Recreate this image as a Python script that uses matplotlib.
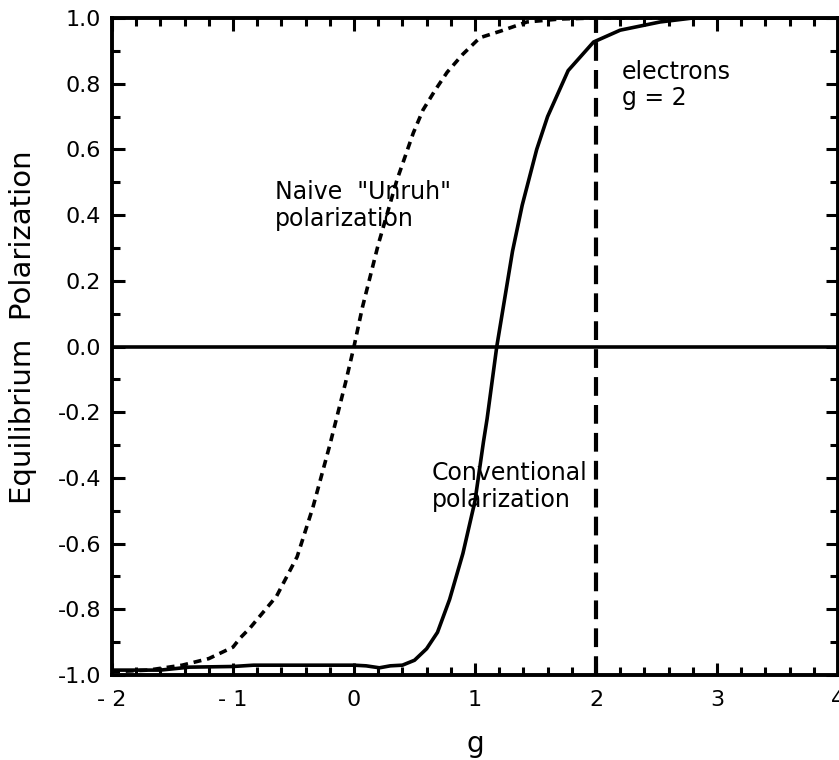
import matplotlib
matplotlib.use("Agg")
import matplotlib.pyplot as plt
from matplotlib.ticker import MultipleLocator

plt.rcParams['font.family'] = ['DejaVu Sans']

# Naive "Unruh" polarization (dashed)
g_naive = [-2.0, -1.7, -1.42, -1.2, -1.0, -0.94, -0.86, -0.64, -0.47, -0.34, -0.2,
           -0.07, 0.0, 0.07, 0.2, 0.355, 0.49, 0.57, 0.67, 0.77, 0.9, 1.04, 1.21,
           1.43, 1.7, 2.0, 4.0]
p_naive = [-0.99, -0.985, -0.97, -0.95, -0.915, -0.887, -0.857, -0.76, -0.64,
           -0.49, -0.30, -0.11, 0.0, 0.12, 0.31, 0.507, 0.65, 0.72, 0.78, 0.835,
           0.89, 0.94, 0.96, 0.988, 0.997, 1.0, 1.0]

# Conventional polarization (solid)
g_conv = [-2.0, -1.6, -1.36, -1.0, -0.83, -0.5, 0.0, 0.1, 0.21, 0.3, 0.4, 0.5,
          0.6, 0.69, 0.79, 0.9, 1.0, 1.07, 1.1, 1.18, 1.31, 1.39, 1.51, 1.6,
          1.77, 1.98, 2.2, 2.53, 2.8, 4.0]
p_conv = [-0.985, -0.985, -0.976, -0.974, -0.97, -0.97, -0.97, -0.972, -0.978,
          -0.972, -0.97, -0.955, -0.92, -0.87, -0.77, -0.63, -0.47, -0.29, -0.22,
          0.0, 0.29, 0.43, 0.60, 0.70, 0.84, 0.927, 0.963, 0.988, 1.0, 1.0]

x_ticks = [-2, -1, 0, 1, 2, 3, 4]
x_tick_labels = ["- 2", "- 1", "0", "1", "2", "3", "4"]
y_ticks = [-1.0, -0.8, -0.6, -0.4, -0.2, 0.0, 0.2, 0.4, 0.6, 0.8, 1.0]
y_tick_labels = ["-1.0", "-0.8", "-0.6", "-0.4", "-0.2", "0.0", "0.2", "0.4", "0.6", "0.8", "1.0"]
electron_g = 2

fig = plt.figure(figsize=(8.39, 7.60), dpi=100)
ax = fig.add_axes([0.1335, 0.1118, 0.8653, 0.8645])

ax.plot(g_naive, p_naive, color='black', lw=2.6, linestyle=(0, (2.2, 1.6)))
ax.plot(g_conv, p_conv, color='black', lw=2.6, solid_capstyle='butt')
ax.axhline(0, color='black', lw=2.6)
ax.axvline(electron_g, color='black', lw=3.0, linestyle=(0, (4.5, 2.2)))

ax.set_xlim(-2, 4)
ax.set_ylim(-1, 1)
ax.set_xticks(x_ticks)
ax.set_xticklabels(x_tick_labels)
ax.set_yticks(y_ticks)
ax.set_yticklabels(y_tick_labels)
ax.xaxis.set_minor_locator(MultipleLocator(0.2))
ax.yaxis.set_minor_locator(MultipleLocator(0.1))

ax.tick_params(which='both', direction='in', top=True, right=True, width=2.2,
               labelsize=16, colors='black')
ax.tick_params(which='major', length=9)
ax.tick_params(which='minor', length=6)
ax.tick_params(axis='y', which='major', pad=8)
ax.tick_params(axis='x', which='major', pad=11)
for s in ax.spines.values():
    s.set_linewidth(2.8)

ax.set_xlabel("g", fontsize=20, labelpad=14)
ax.set_ylabel("Equilibrium  Polarization", fontsize=21, labelpad=12)
ax.yaxis.set_label_coords(-0.104, 0.53)

ax.text(-0.653, 0.428, 'Naive  "Unruh"\npolarization', fontsize=17,
        va='center', ha='left', linespacing=1.15)
ax.text(0.645, -0.425, 'Conventional\npolarization', fontsize=17,
        va='center', ha='left', linespacing=1.15)
ax.text(2.215, 0.796, 'electrons\ng = 2', fontsize=17,
        va='center', ha='left', linespacing=1.15)

fig.savefig("out.png", dpi=100)
